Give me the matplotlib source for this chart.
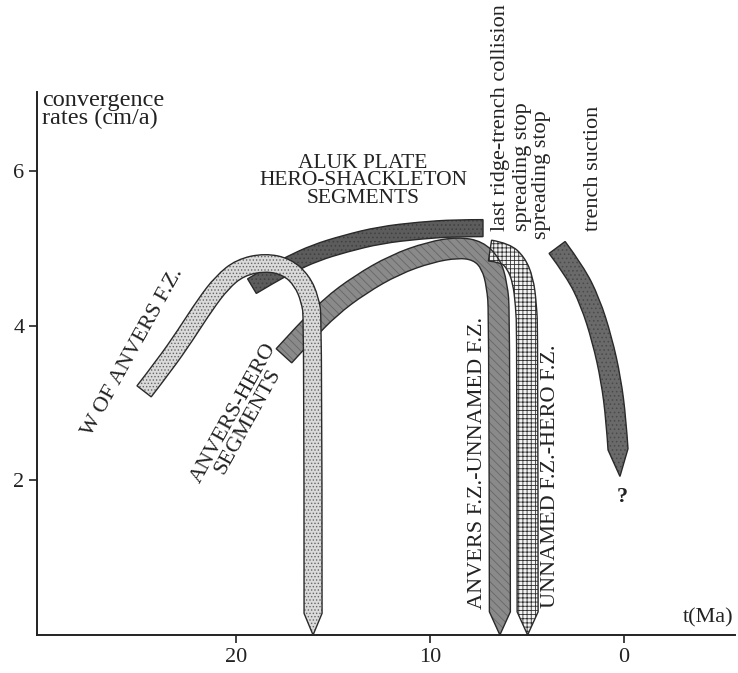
import numpy as np
import matplotlib
matplotlib.use("Agg")
import matplotlib.pyplot as plt
from matplotlib.path import Path
from matplotlib.patches import PathPatch

plt.rcParams['font.family'] = ['Liberation Serif', 'DejaVu Serif']
plt.rcParams['hatch.linewidth'] = 0.6

# centre lines of the bands: time (Ma), rate (cm/a)
w_anvers_t = [24.74, 23.66, 22.63, 21.60, 20.72, 19.79, 18.51, 17.37, 16.60, 16.19, 16.03, 16.03, 16.03]
w_anvers_r = [3.15, 3.50, 3.87, 4.27, 4.56, 4.75, 4.82, 4.76, 4.58, 4.34, 4.08, 0.28, 0.0]

aluk_t = [19.18, 18.25, 17.22, 15.93, 14.38, 12.58, 10.52, 8.71, 7.27]
aluk_r = [4.51, 4.65, 4.79, 4.94, 5.06, 5.17, 5.23, 5.26, 5.26]

anvers_hero_t = [17.53, 16.44, 15.15, 13.61, 11.80, 10.0, 8.56, 7.53, 6.86, 6.55, 6.42, 6.40, 6.40]
anvers_hero_r = [3.61, 3.91, 4.24, 4.53, 4.79, 4.95, 5.01, 4.97, 4.80, 4.53, 4.15, 0.30, 0.0]

unnamed_hero_t = [6.91, 6.13, 5.57, 5.21, 5.05, 4.98, 4.97, 4.97]
unnamed_hero_r = [4.97, 4.94, 4.81, 4.59, 4.27, 3.89, 0.30, 0.0]

suction_t = [3.45, 2.53, 1.75, 1.13, 0.67, 0.41, 0.31, 0.21]
suction_r = [5.01, 4.70, 4.31, 3.82, 3.30, 2.78, 2.40, 2.05]

xticks = [20, 10, 0]
yticks = [2, 4, 6]


def smooth_side(p):
    # quadratic curve through the midpoints, the read points act as controls
    verts = [p[0]]
    codes = []
    for i in range(1, len(p) - 1):
        mid = (p[i] + p[i + 1]) / 2 if i < len(p) - 2 else p[i + 1]
        verts += [p[i], mid]
        codes += [Path.CURVE3, Path.CURVE3]
    if len(p) == 2:
        verts.append(p[1])
        codes.append(Path.LINETO)
    return verts, codes


def ribbon(ax, t, r, width, tip=False, face='0.5', hatch=None, hcol='k', z=2):
    # thick band around a centre line, width in pixels
    pts = ax.transData.transform(np.column_stack([t, r]))
    body = pts[:-1] if tip else pts
    d = np.gradient(body, axis=0)
    d = d / np.hypot(d[:, 0], d[:, 1])[:, None]
    n = np.column_stack([-d[:, 1], d[:, 0]])
    left = body + n * width / 2
    right = (body - n * width / 2)[::-1]
    lv, lc = smooth_side(left)
    rv, rc = smooth_side(right)
    verts = lv
    codes = [Path.MOVETO] + lc
    if tip:
        verts.append(pts[-1])
        codes.append(Path.LINETO)
    verts.append(rv[0])
    codes.append(Path.LINETO)
    verts += rv[1:]
    codes += rc
    verts.append(lv[0])
    codes.append(Path.CLOSEPOLY)
    verts = ax.transData.inverted().transform(np.array(verts))
    path = Path(verts, codes)
    ax.add_patch(PathPatch(path, facecolor=face, edgecolor=hcol,
                           hatch=hatch, linewidth=0, zorder=z))
    ax.add_patch(PathPatch(path, fill=False, edgecolor='#2a2a2a',
                           linewidth=1.0, zorder=z + 0.1))


fig = plt.figure(figsize=(7.38, 6.73), dpi=100)
ax = fig.add_axes([37 / 738, 38 / 673, 698 / 738, 543 / 673])
ax.set_xlim(30.26, -5.72)
ax.set_ylim(0, 7.02)
for s in ['top', 'right']:
    ax.spines[s].set_visible(False)
for s in ['left', 'bottom']:
    ax.spines[s].set_linewidth(1.4)
    ax.spines[s].set_color('#222222')
ax.set_xticks(xticks)
ax.set_yticks(yticks)
ax.tick_params(direction='out', length=6, width=1.2, labelsize=16, colors='#222222', pad=3)

ribbon(ax, anvers_hero_t, anvers_hero_r, 21, tip=True, face='#8a8a8a', hatch='\\\\\\\\', hcol='#666666', z=2)
ribbon(ax, unnamed_hero_t, unnamed_hero_r, 21, tip=True, face='#f4f4f4', hatch='++++', hcol='#303030', z=2)
ribbon(ax, aluk_t, aluk_r, 17, face='#5c5c5c', hatch='....', hcol='#404040', z=3)
ribbon(ax, suction_t, suction_r, 20, tip=True, face='#6a6a6a', hatch='....', hcol='#4a4a4a', z=3)
ribbon(ax, w_anvers_t, w_anvers_r, 18, tip=True, face='#dadada', hatch='.....', hcol='#666666', z=4)

tc = '#222222'
ax.text(30.0, 7.04, 'convergence\nrates (cm/a)', ha='left', va='top', fontsize=17.5,
        linespacing=0.8, color=tc, clip_on=False)
ax.text(13.45, 5.87, 'ALUK PLATE\nHERO-SHACKLETON\nSEGMENTS', ha='center', va='center',
        multialignment='center', fontsize=15.5, linespacing=0.9, color=tc)
ax.text(25.3, 3.66, 'W OF ANVERS F.Z.', rotation=61, ha='center', va='center',
        rotation_mode='anchor', fontsize=16, color=tc)
ax.text(19.74, 2.81, 'ANVERS-HERO\nSEGMENTS', rotation=61, ha='center', va='center',
        multialignment='center', rotation_mode='anchor', fontsize=16, linespacing=0.85, color=tc)
ax.text(7.53, 2.23, 'ANVERS F.Z.-UNNAMED F.Z.', rotation=90, ha='center', va='center',
        fontsize=16, color=tc)
ax.text(3.81, 2.05, 'UNNAMED F.Z.-HERO F.Z.', rotation=90, ha='center', va='center',
        fontsize=16, color=tc)
ax.text(6.39, 5.22, 'last ridge-trench collision', rotation=90, ha='center', va='bottom',
        fontsize=16, color=tc)
ax.text(5.21, 5.22, 'spreading stop', rotation=90, ha='center', va='bottom',
        fontsize=16, color=tc)
ax.text(4.28, 5.12, 'spreading stop', rotation=90, ha='center', va='bottom',
        fontsize=16, color=tc)
ax.text(1.55, 5.22, 'trench suction', rotation=90, ha='center', va='bottom',
        fontsize=16, color=tc)
ax.text(0.1, 1.79, '?', ha='center', va='center', fontsize=16, fontweight='bold', color=tc)
ax.text(-4.33, 0.22, 't(Ma)', ha='center', va='center', fontsize=16, color=tc)

fig.savefig('out.png', dpi=100)
